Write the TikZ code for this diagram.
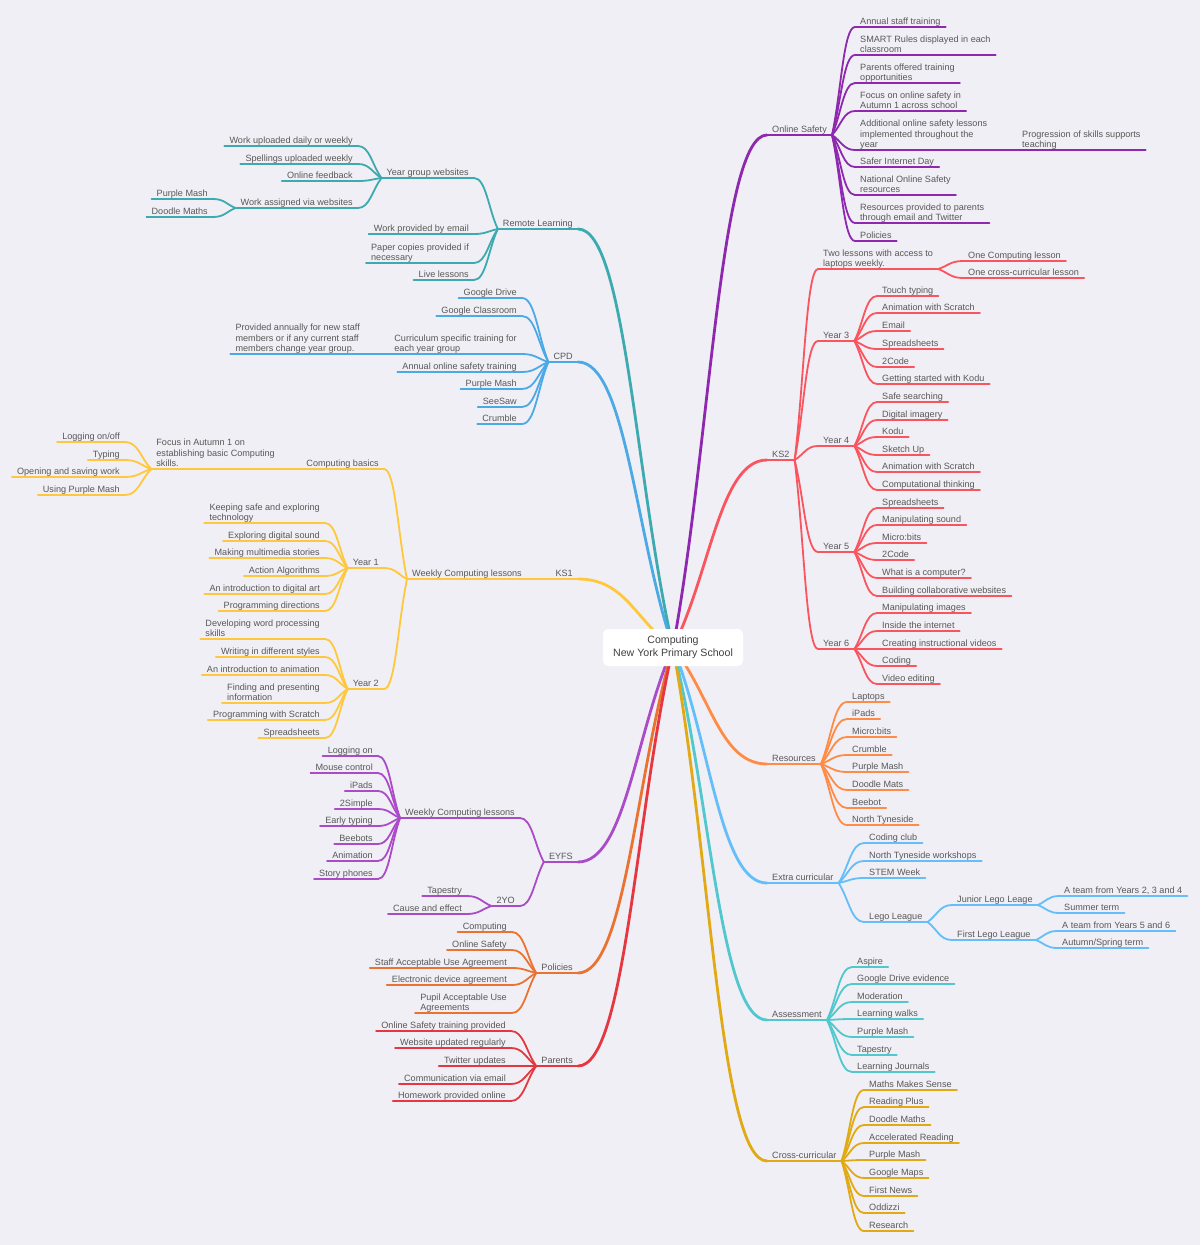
\documentclass[tikz,border=0pt]{standalone}
\usepackage{fontspec}
\setmainfont{Liberation Sans}
\usetikzlibrary{calc,backgrounds}

\definecolor{bgcol}{RGB}{240,239,245}
\definecolor{txtcol}{RGB}{88,88,88}
\definecolor{oscol}{RGB}{142,40,175}
\definecolor{kscol}{RGB}{250,85,95}
\definecolor{recol}{RGB}{255,140,70}
\definecolor{eccol}{RGB}{100,190,250}
\definecolor{ascol}{RGB}{80,200,205}
\definecolor{cccol}{RGB}{225,170,20}
\definecolor{rlcol}{RGB}{60,170,175}
\definecolor{cpcol}{RGB}{75,170,230}
\definecolor{kacol}{RGB}{255,200,60}
\definecolor{eycol}{RGB}{170,75,200}
\definecolor{pocol}{RGB}{235,115,50}
\definecolor{pacol}{RGB}{230,55,65}

\newcommand{\topicfont}{\fontsize{9.1}{10.5}\selectfont}

\begin{document}
\begin{tikzpicture}[
  x=1pt, y=-1pt,
  topic/.style={font=\topicfont, text=txtcol, align=left, inner xsep=5pt, inner ysep=2.3pt, text depth=0pt},
  rt/.style={topic, anchor=south west},
  lt/.style={topic, anchor=south east},
  rootbox/.style={fill=white, rounded corners=5pt, minimum width=140pt, minimum height=37pt, align=center, font=\fontsize{10.6}{13}\selectfont, text=black!75},
  main/.style={line width=2.8pt, line cap=round},
  sub/.style={line width=1.8pt, line cap=round},
  branch/.style={to path={.. controls ($(\tikztostart)!0.4!(\tikztotarget)$) and ($(\tikztostart|-\tikztotarget)!0.5!(\tikztotarget)$) .. (\tikztotarget)}}
]
\useasboundingbox (0,0) rectangle (1200,1245);
\begin{scope}[on background layer]
  \fill[bgcol] (0,0) rectangle (1200,1245);
\end{scope}

\node[rootbox] (root) at (673,647.5) {Computing\\New York Primary School};

% online safety
\node[rt] (os) at (767,135) {Online Safety};
\node[rt] (os1) at (855,27) {Annual staff training};
\node[rt] (os2) at (855,55) {SMART Rules displayed in each\\classroom};
\node[rt] (os3) at (855,83) {Parents offered training\\opportunities};
\node[rt] (os4) at (855,111) {Focus on online safety in\\Autumn 1 across school};
\node[rt] (os5) at (855,150) {Additional online safety lessons\\implemented throughout the\\year};
\node[rt] (os6) at (855,167) {Safer Internet Day};
\node[rt] (os7) at (855,195) {National Online Safety\\resources};
\node[rt] (os8) at (855,223) {Resources provided to parents\\through email and Twitter};
\node[rt] (os9) at (855,241) {Policies};
\node[rt] (osx) at (1017,150) {Progression of skills supports\\teaching};

% ks2
\node[rt] (k2) at (767,460) {KS2};
\node[rt] (k2l) at (818,269) {Two lessons with access to\\laptops weekly.};
\node[rt] (k2l1) at (963,261) {One Computing lesson};
\node[rt] (k2l2) at (963,278) {One cross-curricular lesson};
\node[rt] (ya) at (818,341) {Year 3};
\node[rt] (ya1) at (877,296) {Touch typing};
\node[rt] (ya2) at (877,313) {Animation with Scratch};
\node[rt] (ya3) at (877,331) {Email};
\node[rt] (ya4) at (877,349) {Spreadsheets};
\node[rt] (ya5) at (877,367) {2Code};
\node[rt] (ya6) at (877,384) {Getting started with Kodu};
\node[rt] (yb) at (818,446) {Year 4};
\node[rt] (yb1) at (877,402) {Safe searching};
\node[rt] (yb2) at (877,420) {Digital imagery};
\node[rt] (yb3) at (877,437) {Kodu};
\node[rt] (yb4) at (877,455) {Sketch Up};
\node[rt] (yb5) at (877,472) {Animation with Scratch};
\node[rt] (yb6) at (877,490) {Computational thinking};
\node[rt] (yc) at (818,552) {Year 5};
\node[rt] (yc1) at (877,508) {Spreadsheets};
\node[rt] (yc2) at (877,525) {Manipulating sound};
\node[rt] (yc3) at (877,543) {Micro:bits};
\node[rt] (yc4) at (877,560) {2Code};
\node[rt] (yc5) at (877,578) {What is a computer?};
\node[rt] (yc6) at (877,596) {Building collaborative websites};
\node[rt] (yd) at (818,649) {Year 6};
\node[rt] (yd1) at (877,613) {Manipulating images};
\node[rt] (yd2) at (877,631) {Inside the internet};
\node[rt] (yd3) at (877,649) {Creating instructional videos};
\node[rt] (yd4) at (877,666) {Coding};
\node[rt] (yd5) at (877,684) {Video editing};

% resources
\node[rt] (re) at (767,764) {Resources};
\node[rt] (re1) at (847,702) {Laptops};
\node[rt] (re2) at (847,719) {iPads};
\node[rt] (re3) at (847,737) {Micro:bits};
\node[rt] (re4) at (847,755) {Crumble};
\node[rt] (re5) at (847,772) {Purple Mash};
\node[rt] (re6) at (847,790) {Doodle Mats};
\node[rt] (re7) at (847,808) {Beebot};
\node[rt] (re8) at (847,825) {North Tyneside};

% extra curricular
\node[rt] (ec) at (767,883) {Extra curricular};
\node[rt] (ec1) at (864,843) {Coding club};
\node[rt] (ec2) at (864,861) {North Tyneside workshops};
\node[rt] (ec3) at (864,878) {STEM Week};
\node[rt] (ec4) at (864,922) {Lego League};
\node[rt] (lj) at (952,905) {Junior Lego Leage};
\node[rt] (lj1) at (1059,896) {A team from Years 2, 3 and 4};
\node[rt] (lj2) at (1059,913) {Summer term};
\node[rt] (lf) at (952,940) {First Lego League};
\node[rt] (lf1) at (1057,931) {A team from Years 5 and 6};
\node[rt] (lf2) at (1057,948) {Autumn/Spring term};

% assessment
\node[rt] (as) at (767,1020) {Assessment};
\node[rt] (as1) at (852,967) {Aspire};
\node[rt] (as2) at (852,984) {Google Drive evidence};
\node[rt] (as3) at (852,1002) {Moderation};
\node[rt] (as4) at (852,1019) {Learning walks};
\node[rt] (as5) at (852,1037) {Purple Mash};
\node[rt] (as6) at (852,1055) {Tapestry};
\node[rt] (as7) at (852,1072) {Learning Journals};

% cross-curricular
\node[rt] (cc) at (767,1161) {Cross-curricular};
\node[rt] (cc1) at (864,1090) {Maths Makes Sense};
\node[rt] (cc2) at (864,1107) {Reading Plus};
\node[rt] (cc3) at (864,1125) {Doodle Maths};
\node[rt] (cc4) at (864,1143) {Accelerated Reading};
\node[rt] (cc5) at (864,1160) {Purple Mash};
\node[rt] (cc6) at (864,1178) {Google Maps};
\node[rt] (cc7) at (864,1196) {First News};
\node[rt] (cc8) at (864,1213) {Oddizzi};
\node[rt] (cc9) at (864,1231) {Research};

% remote learning
\node[lt] (rl) at (578,229) {Remote Learning};
\node[lt] (rl1) at (474,178) {Year group websites};
\node[lt] (rw1) at (358,146) {Work uploaded daily or weekly};
\node[lt] (rw2) at (358,164) {Spellings uploaded weekly};
\node[lt] (rw3) at (358,181) {Online feedback};
\node[lt] (rw4) at (358,208) {Work assigned via websites};
\node[lt] (rv1) at (213,199) {Purple Mash};
\node[lt] (rv2) at (213,217) {Doodle Maths};
\node[lt] (rl2) at (474,234) {Work provided by email};
\node[lt] (rl3) at (474,263) {Paper copies provided if\\necessary};
\node[lt] (rl4) at (474,280) {Live lessons};

% cpd
\node[lt] (cp) at (578,362) {CPD};
\node[lt] (cp1) at (522,298) {Google Drive};
\node[lt] (cp2) at (522,316) {Google Classroom};
\node[lt] (cp3) at (522,354) {Curriculum specific training for\\each year group};
\node[lt] (cpx) at (365,354) {Provided annually for new staff\\members or if any current staff\\members change year group.};
\node[lt] (cp4) at (522,372) {Annual online safety training};
\node[lt] (cp5) at (522,389) {Purple Mash};
\node[lt] (cp6) at (522,407) {SeeSaw};
\node[lt] (cp7) at (522,424) {Crumble};

% ks1
\node[lt] (k1) at (578,579) {KS1};
\node[lt] (kw) at (527,579) {Weekly Computing lessons};
\node[lt] (kb) at (384,469) {Computing basics};
\node[lt] (kf) at (280,469) {Focus in Autumn 1 on\\establishing basic Computing\\skills.};
\node[lt] (kf1) at (125,442) {Logging on/off};
\node[lt] (kf2) at (125,460) {Typing};
\node[lt] (kf3) at (125,477) {Opening and saving work};
\node[lt] (kf4) at (125,495) {Using Purple Mash};
\node[lt] (y1) at (384,568) {Year 1};
\node[lt] (y11) at (325,523) {Keeping safe and exploring\\technology};
\node[lt] (y12) at (325,541) {Exploring digital sound};
\node[lt] (y13) at (325,558) {Making multimedia stories};
\node[lt] (y14) at (325,576) {Action Algorithms};
\node[lt] (y15) at (325,594) {An introduction to digital art};
\node[lt] (y16) at (325,611) {Programming directions};
\node[lt] (y2) at (384,689) {Year 2};
\node[lt] (y21) at (325,639) {Developing word processing\\skills};
\node[lt] (y22) at (325,657) {Writing in different styles};
\node[lt] (y23) at (325,675) {An introduction to animation};
\node[lt] (y24) at (325,703) {Finding and presenting\\information};
\node[lt] (y25) at (325,720) {Programming with Scratch};
\node[lt] (y26) at (325,738) {Spreadsheets};

% eyfs
\node[lt] (ey) at (578,862) {EYFS};
\node[lt] (ew) at (520,818) {Weekly Computing lessons};
\node[lt] (ew1) at (378,756) {Logging on};
\node[lt] (ew2) at (378,773) {Mouse control};
\node[lt] (ew3) at (378,791) {iPads};
\node[lt] (ew4) at (378,809) {2Simple};
\node[lt] (ew5) at (378,826) {Early typing};
\node[lt] (ew6) at (378,844) {Beebots};
\node[lt] (ew7) at (378,861) {Animation};
\node[lt] (ew8) at (378,879) {Story phones};
\node[lt] (et) at (520,906) {2YO};
\node[lt] (et1) at (467,896) {Tapestry};
\node[lt] (et2) at (467,914) {Cause and effect};

% policies
\node[lt] (po) at (578,973) {Policies};
\node[lt] (po1) at (512,932) {Computing};
\node[lt] (po2) at (512,950) {Online Safety};
\node[lt] (po3) at (512,968) {Staff Acceptable Use Agreement};
\node[lt] (po4) at (512,985) {Electronic device agreement};
\node[lt] (po5) at (512,1013) {Pupil Acceptable Use\\Agreements};

% parents
\node[lt] (pa) at (578,1066) {Parents};
\node[lt] (pa1) at (511,1031) {Online Safety training provided};
\node[lt] (pa2) at (511,1048) {Website updated regularly};
\node[lt] (pa3) at (511,1066) {Twitter updates};
\node[lt] (pa4) at (511,1084) {Communication via email};
\node[lt] (pa5) at (511,1101) {Homework provided online};

% branches, right side
\begin{scope}[on background layer]
  \foreach \t/\c in {os/oscol, k2/kscol, re/recol, ec/eccol, as/ascol, cc/cccol} {
    \draw[main, \c] (\t.south west) -- (\t.south east);
    \draw[main, \c, branch] (root.center) to (\t.south west);
  }
  \foreach \p/\n/\c in {os/os1/oscol, os/os2/oscol, os/os3/oscol, os/os4/oscol, os/os5/oscol, os/os6/oscol, os/os7/oscol, os/os8/oscol, os/os9/oscol, os5/osx/oscol,
      k2/k2l/kscol, k2l/k2l1/kscol, k2l/k2l2/kscol, k2/ya/kscol, k2/yb/kscol, k2/yc/kscol, k2/yd/kscol,
      ya/ya1/kscol, ya/ya2/kscol, ya/ya3/kscol, ya/ya4/kscol, ya/ya5/kscol, ya/ya6/kscol,
      yb/yb1/kscol, yb/yb2/kscol, yb/yb3/kscol, yb/yb4/kscol, yb/yb5/kscol, yb/yb6/kscol,
      yc/yc1/kscol, yc/yc2/kscol, yc/yc3/kscol, yc/yc4/kscol, yc/yc5/kscol, yc/yc6/kscol,
      yd/yd1/kscol, yd/yd2/kscol, yd/yd3/kscol, yd/yd4/kscol, yd/yd5/kscol,
      re/re1/recol, re/re2/recol, re/re3/recol, re/re4/recol, re/re5/recol, re/re6/recol, re/re7/recol, re/re8/recol,
      ec/ec1/eccol, ec/ec2/eccol, ec/ec3/eccol, ec/ec4/eccol, ec4/lj/eccol, ec4/lf/eccol,
      lj/lj1/eccol, lj/lj2/eccol, lf/lf1/eccol, lf/lf2/eccol,
      as/as1/ascol, as/as2/ascol, as/as3/ascol, as/as4/ascol, as/as5/ascol, as/as6/ascol, as/as7/ascol,
      cc/cc1/cccol, cc/cc2/cccol, cc/cc3/cccol, cc/cc4/cccol, cc/cc5/cccol, cc/cc6/cccol, cc/cc7/cccol, cc/cc8/cccol, cc/cc9/cccol} {
    \draw[sub, \c] (\n.south west) -- (\n.south east);
    \draw[sub, \c, branch] (\p.south east) to (\n.south west);
  }
\end{scope}

% branches, left side
\begin{scope}[on background layer]
  \foreach \t/\c in {rl/rlcol, cp/cpcol, k1/kacol, ey/eycol, po/pocol, pa/pacol} {
    \draw[main, \c] (\t.south west) -- (\t.south east);
    \draw[main, \c, branch] (root.center) to (\t.south east);
  }
  \foreach \p/\n/\c in {rl/rl1/rlcol, rl/rl2/rlcol, rl/rl3/rlcol, rl/rl4/rlcol,
      rl1/rw1/rlcol, rl1/rw2/rlcol, rl1/rw3/rlcol, rl1/rw4/rlcol, rw4/rv1/rlcol, rw4/rv2/rlcol,
      cp/cp1/cpcol, cp/cp2/cpcol, cp/cp3/cpcol, cp/cp4/cpcol, cp/cp5/cpcol, cp/cp6/cpcol, cp/cp7/cpcol, cp3/cpx/cpcol,
      k1/kw/kacol, kw/kb/kacol, kb/kf/kacol, kf/kf1/kacol, kf/kf2/kacol, kf/kf3/kacol, kf/kf4/kacol,
      kw/y1/kacol, y1/y11/kacol, y1/y12/kacol, y1/y13/kacol, y1/y14/kacol, y1/y15/kacol, y1/y16/kacol,
      kw/y2/kacol, y2/y21/kacol, y2/y22/kacol, y2/y23/kacol, y2/y24/kacol, y2/y25/kacol, y2/y26/kacol,
      ey/ew/eycol, ew/ew1/eycol, ew/ew2/eycol, ew/ew3/eycol, ew/ew4/eycol, ew/ew5/eycol, ew/ew6/eycol, ew/ew7/eycol, ew/ew8/eycol,
      ey/et/eycol, et/et1/eycol, et/et2/eycol,
      po/po1/pocol, po/po2/pocol, po/po3/pocol, po/po4/pocol, po/po5/pocol,
      pa/pa1/pacol, pa/pa2/pacol, pa/pa3/pacol, pa/pa4/pacol, pa/pa5/pacol} {
    \draw[sub, \c] (\n.south west) -- (\n.south east);
    \draw[sub, \c, branch] (\p.south west) to (\n.south east);
  }
\end{scope}
\end{tikzpicture}
\end{document}
